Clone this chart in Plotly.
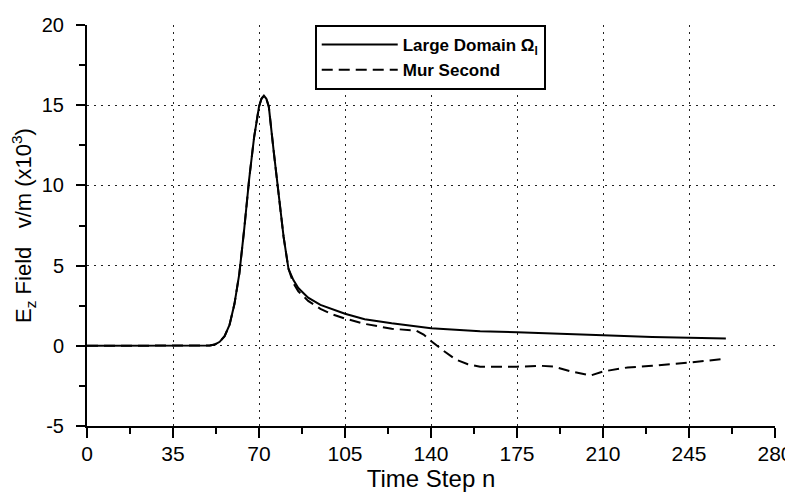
import plotly.graph_objects as go

# Large Domain (solid)
x_large = [0, 10, 20, 30, 40, 48, 50, 52, 54, 56, 58, 60, 62, 64, 66, 68, 70, 71, 72, 73, 74, 76, 78, 80, 82, 84, 86,
           90, 95, 100, 105, 113, 124, 140, 160, 175, 190, 210, 230, 245, 260]
y_large = [0, 0, 0, 0, 0, 0, 0.02, 0.08, 0.25, 0.6, 1.3, 2.6, 4.5, 7.3, 10.4, 13.0, 14.9, 15.4, 15.6, 15.4, 14.9, 12.1, 9.3, 6.8, 4.8, 4.1, 3.6,
           3.0, 2.55, 2.25, 2.0, 1.65, 1.4, 1.1, 0.9, 0.85, 0.75, 0.65, 0.55, 0.5, 0.45]

# Mur Second (dashed)
x_mur = [0, 10, 20, 30, 40, 48, 50, 52, 54, 56, 58, 60, 62, 64, 66, 68, 70, 71, 72, 73, 74, 76, 78, 80, 82, 84, 86,
         90, 95, 100, 105, 113, 124, 130, 134, 137, 140, 145, 150, 155, 160, 175, 185, 190, 197, 205, 210, 220, 230, 245, 260]
y_mur = [0, 0, 0, 0, 0, 0, 0.02, 0.08, 0.25, 0.6, 1.3, 2.6, 4.5, 7.3, 10.4, 13.0, 14.9, 15.4, 15.6, 15.4, 14.9, 12.1, 9.3, 6.8, 4.8, 3.9, 3.4,
         2.8, 2.3, 1.95, 1.7, 1.37, 1.06, 1.0, 0.95, 0.7, 0.3, -0.3, -0.85, -1.15, -1.3, -1.3, -1.25, -1.3, -1.6, -1.85, -1.6, -1.35, -1.25, -1.05, -0.8]

x_ticks = [0, 35, 70, 105, 140, 175, 210, 245, 280]
y_ticks = [-5, 0, 5, 10, 15, 20]

FONT = "Liberation Sans, Arial, Helvetica, sans-serif"

fig = go.Figure()
fig.add_trace(go.Scatter(x=x_large, y=y_large, mode="lines",
                         name="<b>Large Domain \u03a9<sub>l</sub></b>",
                         line=dict(color="black", width=2)))
fig.add_trace(go.Scatter(x=x_mur, y=y_mur, mode="lines",
                         name="<b>Mur Second</b>",
                         line=dict(color="black", width=2, dash="11px,6px")))

fig.update_layout(
    width=793, height=497,
    margin=dict(l=79, r=26, t=17, b=79, autoexpand=False),
    paper_bgcolor="white", plot_bgcolor="white",
    font=dict(family=FONT, color="black"),
    showlegend=True,
    legend=dict(x=0.331, y=1.0, xanchor="left", yanchor="top",
                bordercolor="black", borderwidth=2, bgcolor="white",
                font=dict(family=FONT, size=17, color="black"),
                itemwidth=76, tracegroupgap=0),
    xaxis=dict(range=[0, 280], tickvals=x_ticks, ticktext=[str(v) for v in x_ticks],
               automargin=False,
               showgrid=True, gridcolor="#222", griddash="2px,5px", gridwidth=1,
               zeroline=False, showline=True, linecolor="black", linewidth=2,
               ticks="outside", ticklen=10, tickwidth=1.5, tickcolor="black",
               ticklabelstandoff=-2,
               minor=dict(dtick=17.5, tick0=0, ticks="outside", ticklen=6, tickwidth=1.5,
                          tickcolor="black", showgrid=False),
               tickfont=dict(family=FONT, size=21, color="black"),
               title=dict(text="Time Step n", standoff=0,
                          font=dict(family=FONT, size=24, color="black"))),
    yaxis=dict(range=[-5, 20], tickvals=y_ticks, ticktext=[str(v) for v in y_ticks],
               automargin=False,
               showgrid=True, gridcolor="#222", griddash="2px,5px", gridwidth=1,
               zeroline=False, showline=True, linecolor="black", linewidth=2,
               ticks="outside", ticklen=9, tickwidth=1.5, tickcolor="black",
               ticklabelstandoff=8,
               minor=dict(dtick=2.5, tick0=0, ticks="outside", ticklen=6, tickwidth=1.5,
                          tickcolor="black", showgrid=False),
               tickfont=dict(family=FONT, size=20, color="black"),
               title=dict(text="E<sub>z</sub> Field\u00a0\u00a0\u00a0v/m (x10<sup>3</sup>)", standoff=4,
                          font=dict(family=FONT, size=22, color="black"))),
)

fig.write_html("out.html")
